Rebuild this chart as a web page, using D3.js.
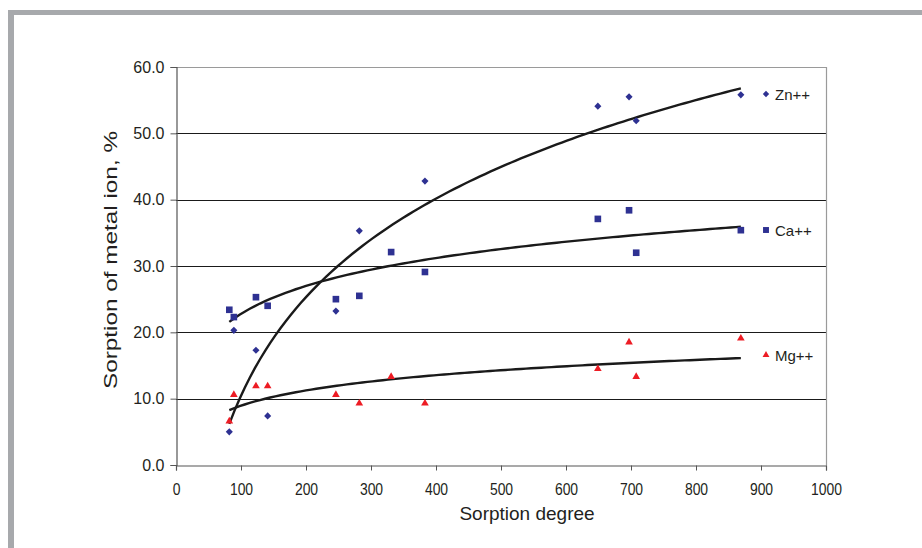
<!DOCTYPE html>
<html>
<head>
<meta charset="utf-8">
<script src="https://cdn.jsdelivr.net/npm/d3@7"></script>
<style>
  html, body { margin: 0; padding: 0; background: #fff; }
  svg { display: block; }
  text { font-family: "Liberation Sans", Arial, sans-serif; fill: #231f20; }
</style>
</head>
<body>
<svg id="chart" width="922" height="548"></svg>
<script>
// Sorption degree (x) shared by the measurements
const sorptionDegree = [82, 89, 123, 141, 246, 282, 331, 383, 649, 697, 708, 869];

// Sorption of metal ion, % (null = not measured)
const znValues = [5.0, 20.3, 17.3, 7.4, 23.2, 35.3, null, 42.8, 54.1, 55.5, 51.9, 55.8];
const caValues = [23.4, 22.3, 25.3, 24.0, 25.0, 25.5, 32.1, 29.1, 37.1, 38.4, 32.0, 35.4];
const mgValues = [6.6, 10.6, 11.9, 11.9, 10.6, 9.3, 13.3, 9.3, 14.5, 18.5, 13.3, 19.1];

// Logarithmic trend lines, y = slope * ln(x) + intercept (Zn, Ca, Mg)
const trendSlope = [21.43, 6.07, 3.32];
const trendIntercept = [-88.24, -5.17, -6.35];

const seriesNames = ["Zn++", "Ca++", "Mg++"];
const xTicks = [0, 100, 200, 300, 400, 500, 600, 700, 800, 900, 1000];
const yTicks = [0, 10, 20, 30, 40, 50, 60];

const svg = d3.select("#chart");
const plot = { left: 176, right: 826, top: 67, bottom: 465 };

const x = d3.scaleLinear().domain([0, 1000]).range([plot.left, plot.right]);
const y = d3.scaleLinear().domain([0, 60]).range([plot.bottom, plot.top]);

// Outer page frame
svg.append("rect").attr("x", 8).attr("y", 10).attr("width", 914).attr("height", 5).attr("fill", "#a7a9ac");
svg.append("rect").attr("x", 8).attr("y", 10).attr("width", 6).attr("height", 538).attr("fill", "#a7a9ac");

// Horizontal gridlines
svg.append("g").selectAll("line").data(yTicks.filter(v => v > 0 && v < 60)).join("line")
  .attr("x1", plot.left).attr("x2", plot.right)
  .attr("y1", d => Math.round(y(d)) + 0.5).attr("y2", d => Math.round(y(d)) + 0.5)
  .attr("stroke", "#1a1a1a").attr("stroke-width", 1);

// Plot area border (top and right)
svg.append("path")
  .attr("d", `M${plot.left},${plot.top + 0.5}H${plot.right + 0.5}V${plot.bottom}`)
  .attr("fill", "none").attr("stroke", "#9a9a9a").attr("stroke-width", 1.2);

// Axes
const xAxis = svg.append("g").attr("transform", `translate(0,${plot.bottom + 0.5})`)
  .call(d3.axisBottom(x).tickValues(xTicks).tickSize(5).tickPadding(13).tickFormat(d3.format("d")));
const yAxis = svg.append("g").attr("transform", `translate(${plot.left + 0.5},0)`)
  .call(d3.axisLeft(y).tickValues(yTicks).tickSize(6).tickPadding(6).tickFormat(d3.format(".1f")));
[xAxis, yAxis].forEach(ax => {
  ax.select(".domain").attr("stroke", "#555").attr("stroke-width", 1.2);
  ax.selectAll(".tick line").attr("stroke", "#555");
  ax.selectAll(".tick text").attr("fill", "#231f20")
    .attr("font-family", "Liberation Sans, Arial, sans-serif");
});
yAxis.selectAll(".tick text").attr("font-size", 16);
// x tick labels: tall, slightly condensed lettering
xAxis.selectAll(".tick text").attr("font-size", 16)
  .each(function () {
    const w = this.getComputedTextLength();
    d3.select(this).attr("textLength", w * 0.87).attr("lengthAdjust", "spacingAndGlyphs");
  });

// Axis titles
svg.append("text").attr("x", 527).attr("y", 520).attr("text-anchor", "middle")
  .attr("font-size", 19).text("Sorption degree");
svg.append("text").attr("transform", "translate(117,260) rotate(-90)").attr("text-anchor", "middle")
  .attr("font-size", 19).attr("textLength", 258).attr("lengthAdjust", "spacingAndGlyphs")
  .text("Sorption of metal ion, %");

// Trend lines over the measured range
const seriesData = [znValues, caValues, mgValues];
const line = d3.line().x(d => x(d[0])).y(d => y(d[1]));
const xMin = d3.min(sorptionDegree), xMax = d3.max(sorptionDegree);
const samples = d3.range(0, 101).map(i => xMin + (xMax - xMin) * i / 100);
seriesData.forEach((vals, si) => {
  const f = v => trendSlope[si] * Math.log(v) + trendIntercept[si];
  svg.append("path").datum(samples.map(v => [v, f(v)]))
    .attr("d", line).attr("fill", "none").attr("stroke", "#1a1a1a").attr("stroke-width", 2.4);
});

// Markers
const blue = "#2e3192", red = "#ed1c24";
const symbols = [
  { type: d3.symbolDiamond2, size: 32, color: blue },
  { type: d3.symbolSquare2, size: 56, color: blue },
  { type: d3.symbolTriangle2, size: 42, color: red }
];
seriesData.forEach((vals, si) => {
  const s = symbols[si];
  const sym = d3.symbol().type(s.type).size(s.size);
  svg.append("g").selectAll("path")
    .data(sorptionDegree.map((v, i) => [v, vals[i]]).filter(d => d[1] != null))
    .join("path")
    .attr("transform", d => `translate(${x(d[0])},${y(d[1])})`)
    .attr("d", sym).attr("fill", s.color);
});

// Legend
const legendY = [94, 230, 355];
seriesNames.forEach((name, i) => {
  const s = symbols[i];
  const g = svg.append("g").attr("transform", `translate(766,${legendY[i]})`);
  g.append("path").attr("d", d3.symbol().type(s.type).size(s.size * 0.8)).attr("fill", s.color);
  g.append("text").attr("x", 9).attr("y", 5.5).attr("font-size", 15).text(name);
});
</script>
</body>
</html>
